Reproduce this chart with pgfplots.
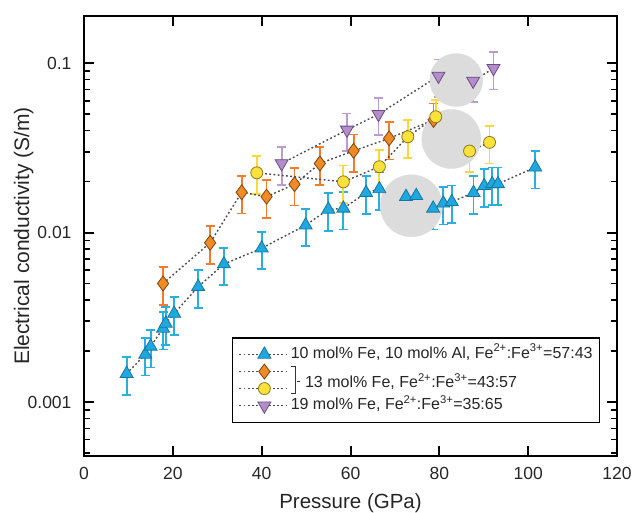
\documentclass[border=0pt]{standalone}
\usepackage{pgfplots}
\usepackage{pgfplotstable}
\pgfplotsset{compat=1.18}
\usepackage{fontspec}
\setmainfont{Liberation Sans}
\definecolor{cblue}{HTML}{1EA8DE}
\definecolor{cblueE}{HTML}{1776A3}
\definecolor{corange}{HTML}{F08A24}
\definecolor{corangeE}{HTML}{7A4512}
\definecolor{cyellow}{HTML}{FBE13C}
\definecolor{cyellowE}{HTML}{8C7A1E}
\definecolor{cpurple}{HTML}{B38ECB}
\definecolor{cpurpleE}{HTML}{6A4C82}
\definecolor{bblue}{HTML}{2AAEE0}
\definecolor{borange}{HTML}{F27B2E}
\definecolor{byellow}{HTML}{FCD93A}
\definecolor{bpurple}{HTML}{BC9AD4}
\definecolor{lgray}{HTML}{DCDCDC}
\definecolor{lline}{HTML}{4A4A4A}
\pgfplotstableread{
P s
9.6 0.00147
13.8 0.00191
15.0 0.00213
17.8 0.00272
18.4 0.00291
20.3 0.00333
25.7 0.00479
31.5 0.00652
40.0 0.00809
49.9 0.01106
55.0 0.0137
58.4 0.0139
63.5 0.0172
66.5 0.0181
72.5 0.0163
74.8 0.0165
78.6 0.0139
80.9 0.0149
82.8 0.0152
87.7 0.0172
90.1 0.0189
91.9 0.0194
93.2 0.0194
101.6 0.0243
}\tblue
\pgfplotstableread{
P s
17.8 0.00501
28.4 0.00871
35.5 0.0173
41.1 0.0163
47.4 0.0193
53.1 0.0256
60.7 0.0304
68.7 0.0360
78.7 0.0463
}\torange
\pgfplotstableread{
P s
38.9 0.02255
58.4 0.01995
66.5 0.0245
72.9 0.0368
79.2 0.0483
86.8 0.0303
91.3 0.0341
}\tyellow
\pgfplotstableread{
P s
44.5 0.0256
59.2 0.0404
66.3 0.0500
79.8 0.0841
87.6 0.0786
92.2 0.0934
}\tpurple
\pgfplotsset{
  ser/.style={lline, line width=1.4pt, dash pattern=on 1.8pt off 2.4pt},
  eb/.style={forget plot, only marks, mark=none, error bars/.cd, y dir=both, y fixed relative=0.25,
     error bar style={solid, #1, line width=1.8pt},
     error mark options={solid, rotate=90, #1, mark size=4.5pt, line width=1.8pt}},
}
\begin{document}
\begin{tikzpicture}
\begin{axis}[
  scale only axis, width=533pt, height=440pt,
  xmin=0, xmax=120, ymin=4.8e-4, ymax=0.19,
  ymode=log,
  xtick={0,20,...,120},
  ytick={0.001,0.01,0.1},
  yticklabels={0.001,0.01,0.1},
  minor ytick={5e-4,6e-4,7e-4,8e-4,9e-4,2e-3,3e-3,4e-3,5e-3,6e-3,7e-3,8e-3,9e-3,0.02,0.03,0.04,0.05,0.06,0.07,0.08,0.09},
  xtick pos=both, ytick pos=both,
  xticklabel pos=lower, yticklabel pos=left,
  tick align=inside,
  major tick length=10pt, minor tick length=6pt,
  major tick style={line width=2pt, black},
  minor tick style={line width=1.5pt, black},
  axis line style={line width=2.2pt, black},
  /pgf/number format/assume math mode=true,
  tick label style={font=\fontsize{17.5}{17.5}\selectfont, text=black!85},
  xticklabel style={yshift=-8pt},
  yticklabel style={xshift=-9pt},
  xlabel={Pressure (GPa)},
  ylabel={Electrical conductivity (S/m)},
  xlabel style={font=\fontsize{20.5}{22}\selectfont, text=black!85, at={(axis description cs:0.5,-0.078)}, anchor=north},
  ylabel style={font=\fontsize{21}{22}\selectfont, text=black!85, at={(axis description cs:-0.088,0.5)}, anchor=south},
  legend style={at={(axis description cs:1,0)}, anchor=south east, xshift=-17pt, yshift=33pt,
     draw=black, line width=1.5pt, font=\fontsize{16}{18}\selectfont, text=black!85,
     inner xsep=6pt, inner ysep=8pt, row sep=0pt,
     nodes={inner sep=0.7pt, text height=11.5pt, text depth=4.2pt}, cells={anchor=west}},
  legend image code/.code={\draw[mark repeat=2,mark phase=2] plot coordinates {(0pt,0pt) (25pt,0pt) (50pt,0pt)};},
]
% highlight circles
\addplot[forget plot, only marks, mark=*, mark size=26.5pt, lgray, mark options={draw=lgray, fill=lgray}] coordinates {(83.8,0.0796)};
\addplot[forget plot, only marks, mark=*, mark size=29.5pt, lgray, mark options={draw=lgray, fill=lgray}] coordinates {(82.7,0.0357)};
\addplot[forget plot, only marks, mark=*, mark size=31pt, lgray, mark options={draw=lgray, fill=lgray}] coordinates {(73.7,0.0144)};

% error bars (drawn below the markers)
\addplot[eb=bblue] table[x=P, y=s] {\tblue};
\addplot[eb=borange] table[x=P, y=s] {\torange};
\addplot[eb=byellow] table[x=P, y=s] {\tyellow};
\addplot[eb=bpurple] table[x=P, y=s] {\tpurple};

% 10 mol% Fe, 10 mol% Al
\addplot[ser, mark=triangle*, mark size=7.5pt, mark options={solid, fill=cblue, draw=cblueE, line width=0.8pt}] table[x=P, y=s] {\tblue};
\addlegendentry{10 mol\% Fe, 10 mol\% Al, Fe\textsuperscript{2+}:Fe\textsuperscript{3+}=57:43}

% 13 mol% Fe (diamonds)
\addplot[ser, mark=diamond*, mark size=7.5pt, mark options={solid, fill=corange, draw=corangeE, line width=0.8pt}] table[x=P, y=s] {\torange};
\addlegendentry{\makebox[0pt][l]{\raisebox{-12.5pt}[0pt][0pt]{\color{black!80}\rlap{\rule[21.3pt]{4pt}{0.8pt}}\rule[-6pt]{4pt}{0.8pt}\rule[-6pt]{0.8pt}{28.1pt}\kern1pt\rule[5.5pt]{3.5pt}{0.8pt}\kern5pt\color{black!85}13 mol\% Fe, Fe\textsuperscript{2+}:Fe\textsuperscript{3+}=43:57}}}

% 13 mol% Fe (circles)
\addplot[ser, mark=*, mark size=6pt, mark options={solid, fill=cyellow, draw=cyellowE, line width=0.8pt}] table[x=P, y=s] {\tyellow};
\addlegendentry{}

% 19 mol% Fe
\addplot[ser, mark=triangle*, mark size=7.5pt, mark options={solid, rotate=180, fill=cpurple, draw=cpurpleE, line width=0.8pt}] table[x=P, y=s] {\tpurple};
\addlegendentry{19 mol\% Fe, Fe\textsuperscript{2+}:Fe\textsuperscript{3+}=35:65}

\coordinate (bl) at (rel axis cs:0,0);
\coordinate (tr) at (rel axis cs:1,1);
\end{axis}
\pgfresetboundingbox
\path ([shift={(-84pt,-56pt)}]bl) rectangle ([shift={(16pt,16pt)}]tr);
\end{tikzpicture}
\end{document}
